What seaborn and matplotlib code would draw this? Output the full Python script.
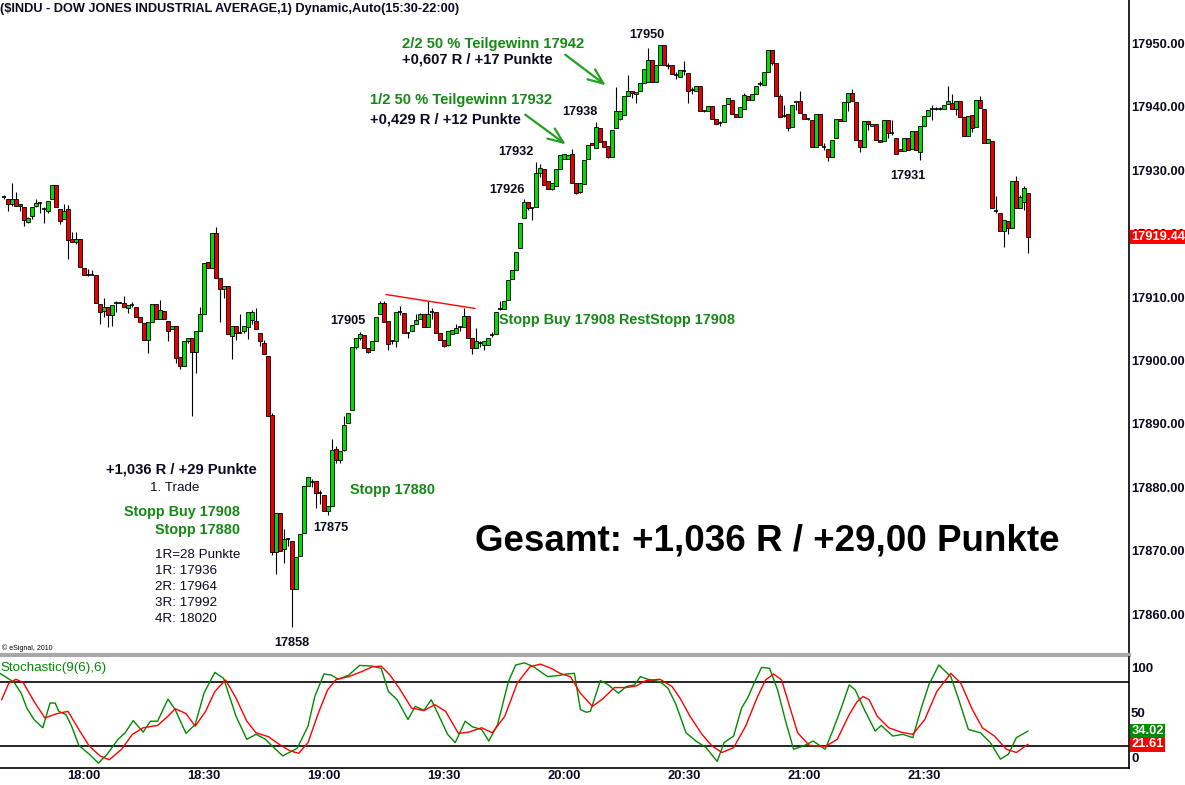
import numpy as np
import pandas as pd
import matplotlib
matplotlib.use("Agg")
import matplotlib.pyplot as plt
import seaborn as sns
from matplotlib.transforms import blended_transform_factory

# ============================================================
# data: 1-min candles, first bar 17:40 (minutes counted from 18:00)
# ============================================================
first_minute = -20

opens = [
    17925.9, 17925.5, 17924.6, 17925.4, 17924.6, 17924.2, 17921.9, 17922.8, 17924.4, 17924.8,
    17923.9, 17923.6, 17925.5, 17927.6, 17923.8, 17922.3, 17923.8, 17919.1, 17918.6, 17919.2,
    17914.5, 17913.5, 17913.5, 17913.4, 17908.9, 17907.8, 17908.4, 17907.2, 17909.1, 17909.1,
    17909.1, 17908.3, 17908.7, 17908.5, 17906.9, 17905.9, 17903.3, 17906.1, 17908.9, 17906.6,
    17907.8, 17906.3, 17904.9, 17905.4, 17900.5, 17899.1, 17903.1, 17903.5, 17901.4, 17904.7,
    17907.3, 17915.5, 17914.6, 17920.1, 17913.0, 17911.2, 17911.7, 17903.8, 17905.4, 17904.4,
    17904.7, 17905.3, 17906.4, 17906.2, 17904.4, 17902.8, 17900.7, 17891.4, 17869.9, 17875.9,
    17870.3, 17871.8, 17871.5, 17864.0, 17869.2, 17872.9, 17880.2, 17880.9, 17881.0, 17879.1,
    17878.8, 17876.3, 17877.1, 17886.0, 17884.3, 17885.9, 17890.1, 17892.2, 17902.1, 17903.5,
    17904.0, 17901.9, 17901.6, 17903.1, 17907.3, 17909.1, 17906.2, 17903.0, 17903.0, 17907.7,
    17907.5, 17904.4, 17904.7, 17905.7, 17906.5, 17907.3, 17905.2, 17907.6, 17907.6, 17904.4,
    17903.3, 17902.4, 17904.2, 17904.3, 17905.2, 17905.2, 17907.0, 17903.5, 17901.9, 17902.8,
    17902.4, 17902.4, 17904.0, 17904.1, 17908.1, 17908.1, 17909.6, 17912.8, 17914.2, 17917.8,
    17922.5, 17925.0, 17924.0, 17924.2, 17929.6, 17930.1, 17928.3, 17927.1,
    17927.5, 17930.2, 17931.7, 17931.7, 17932.5, 17928.0, 17926.6, 17927.8, 17931.7, 17934.2,
    17933.5, 17936.7, 17934.6, 17933.8, 17932.1, 17936.6, 17938.0, 17938.7, 17941.7, 17942.4,
    17942.0, 17942.4, 17943.8, 17943.9, 17947.4, 17943.9, 17946.5, 17949.7, 17946.4,
    17946.5, 17945.0, 17944.7, 17945.6, 17945.3, 17942.6, 17942.5, 17943.2, 17939.3, 17939.3,
    17940.1, 17938.1, 17937.4, 17937.6, 17940.4, 17941.1, 17938.8, 17938.4, 17939.7, 17941.6,
    17941.0, 17942.0, 17943.5, 17943.4, 17945.5, 17949.0, 17946.8, 17941.7, 17938.6, 17938.8,
    17936.8, 17940.7, 17940.9, 17938.8, 17938.0, 17937.9, 17933.7, 17938.9, 17933.7, 17933.4,
    17932.1, 17935.0, 17938.1, 17937.8, 17940.7, 17942.1, 17940.7, 17934.7, 17933.7, 17937.8,
    17937.0, 17937.3, 17934.8, 17934.6, 17937.9, 17935.8, 17935.1, 17933.4, 17933.0, 17935.1,
    17933.3, 17936.1, 17932.9, 17936.9, 17938.5, 17939.7, 17939.7, 17939.7, 17939.6, 17940.4,
    17940.5, 17939.6, 17940.9, 17938.3, 17935.4, 17938.7, 17936.8, 17941.0, 17939.7, 17934.2,
    17934.6, 17923.6, 17923.3, 17920.4, 17922.0, 17920.8, 17928.3, 17924.0, 17925.0, 17926.4,
]
highs = [
    17926.1, 17925.5, 17927.9, 17926.5, 17924.7, 17924.2, 17922.6, 17924.2, 17925.4, 17924.9,
    17924.2, 17925.1, 17927.6, 17927.6, 17923.8, 17924.6, 17924.5, 17920.2, 17920.2, 17919.2,
    17914.5, 17914.4, 17914.2, 17913.4, 17908.9, 17909.8, 17908.4, 17908.8, 17909.4, 17909.2,
    17910.2, 17908.8, 17909.2, 17908.5, 17906.9, 17905.9, 17906.0, 17908.9, 17908.9, 17909.5,
    17907.8, 17906.3, 17905.4, 17905.4, 17900.5, 17903.1, 17903.6, 17903.5, 17904.6, 17908.5,
    17915.3, 17915.5, 17920.1, 17921.0, 17913.0, 17911.7, 17911.7, 17905.4, 17905.4, 17907.3,
    17905.4, 17907.6, 17907.9, 17908.3, 17904.4, 17903.2, 17900.7, 17891.8, 17875.9, 17875.9,
    17873.4, 17872.1, 17871.5, 17869.1, 17872.6, 17880.2, 17881.7, 17881.3, 17881.0, 17879.6,
    17878.8, 17877.1, 17887.6, 17886.5, 17885.8, 17891.3, 17891.8, 17902.1, 17903.6, 17904.5,
    17904.0, 17901.9, 17903.0, 17906.9, 17909.4, 17909.4, 17906.2, 17903.3, 17907.7, 17908.6,
    17907.5, 17904.5, 17905.6, 17907.4, 17907.5, 17907.4, 17909.3, 17908.2, 17907.6, 17904.4,
    17903.3, 17904.6, 17904.8, 17905.7, 17905.4, 17908.3, 17907.0, 17903.5, 17905.1, 17903.0,
    17903.1, 17903.5, 17904.5, 17907.7, 17909.3, 17909.3, 17912.7, 17914.2, 17917.1, 17921.6,
    17925.4, 17925.0, 17924.1, 17931.3, 17930.9, 17930.1, 17928.3, 17928.0,
    17930.2, 17932.4, 17932.6, 17932.4, 17933.3, 17928.0, 17927.9, 17931.6, 17933.9, 17934.3,
    17937.6, 17936.7, 17934.6, 17933.8, 17936.3, 17943.1, 17939.3, 17941.7, 17945.0, 17942.4,
    17942.3, 17943.8, 17946.0, 17949.2, 17947.4, 17946.5, 17949.7, 17949.7, 17946.8,
    17946.5, 17945.5, 17945.7, 17947.2, 17945.3, 17943.1, 17943.2, 17943.2, 17939.5, 17940.1,
    17940.1, 17938.1, 17937.8, 17940.2, 17941.3, 17941.1, 17938.8, 17939.9, 17942.1, 17941.6,
    17942.0, 17943.2, 17944.0, 17945.5, 17949.0, 17949.0, 17946.8, 17942.0, 17940.2, 17938.8,
    17940.3, 17940.7, 17942.4, 17938.8, 17938.1, 17937.9, 17938.9, 17938.9, 17934.2, 17933.4,
    17934.7, 17938.1, 17938.1, 17940.8, 17942.1, 17942.7, 17940.7, 17934.7, 17937.7, 17937.8,
    17937.3, 17937.3, 17934.8, 17937.9, 17937.9, 17937.9, 17935.1, 17933.4, 17935.1, 17935.1,
    17936.1, 17936.1, 17936.9, 17938.5, 17939.4, 17940.2, 17939.9, 17939.9, 17940.3, 17943.2,
    17942.0, 17940.9, 17940.9, 17938.3, 17938.5, 17938.7, 17941.1, 17941.6, 17939.7, 17934.9,
    17934.6, 17925.9, 17923.3, 17922.2, 17922.0, 17928.3, 17929.1, 17926.1, 17927.5, 17926.4,
]
lows = [
    17925.5, 17923.6, 17924.4, 17924.4, 17923.6, 17921.2, 17921.7, 17922.3, 17924.2, 17923.3,
    17921.7, 17923.3, 17925.5, 17924.2, 17921.5, 17922.3, 17916.0, 17918.6, 17918.3, 17914.8,
    17913.4, 17913.3, 17913.4, 17909.0, 17905.8, 17906.9, 17905.3, 17905.5, 17907.7, 17909.0,
    17908.5, 17907.5, 17908.5, 17906.9, 17906.0, 17903.2, 17901.2, 17906.1, 17906.6, 17906.6,
    17906.5, 17903.0, 17904.9, 17899.6, 17898.7, 17899.1, 17902.7, 17891.2, 17898.0, 17904.7,
    17907.3, 17914.6, 17914.6, 17913.0, 17906.1, 17909.9, 17904.1, 17900.3, 17903.2, 17904.4,
    17904.4, 17903.4, 17905.7, 17904.9, 17902.3, 17901.0, 17891.2, 17869.4, 17866.3, 17870.0,
    17868.1, 17870.7, 17858.0, 17864.0, 17869.2, 17872.9, 17880.2, 17880.1, 17876.8, 17877.4,
    17876.3, 17875.7, 17877.1, 17883.9, 17883.8, 17885.8, 17890.1, 17892.2, 17901.8, 17903.2,
    17901.9, 17901.2, 17901.6, 17903.1, 17907.3, 17906.1, 17901.6, 17902.6, 17902.2, 17907.2,
    17904.4, 17903.5, 17904.7, 17905.7, 17906.5, 17905.3, 17905.2, 17906.6, 17904.4, 17903.2,
    17902.1, 17902.3, 17904.2, 17904.3, 17904.7, 17905.2, 17903.6, 17901.1, 17901.9, 17902.2,
    17901.6, 17902.4, 17903.7, 17904.1, 17907.9, 17908.1, 17909.6, 17912.8, 17914.2, 17917.8,
    17922.5, 17923.7, 17922.1, 17924.2, 17928.9, 17927.7, 17927.1, 17926.9,
    17927.5, 17930.2, 17931.7, 17931.7, 17927.9, 17926.3, 17926.4, 17927.8, 17931.7, 17934.0,
    17933.5, 17934.5, 17933.7, 17931.9, 17932.1, 17936.6, 17937.9, 17938.7, 17941.7, 17941.3,
    17940.5, 17942.4, 17943.8, 17943.9, 17943.9, 17943.9, 17946.5, 17946.5, 17946.0,
    17945.2, 17944.3, 17944.7, 17945.0, 17940.6, 17942.0, 17942.5, 17939.3, 17939.1, 17939.3,
    17938.1, 17937.3, 17937.0, 17937.6, 17940.4, 17938.9, 17938.3, 17938.4, 17939.7, 17941.0,
    17941.0, 17942.0, 17943.2, 17943.4, 17945.5, 17946.5, 17941.7, 17938.4, 17938.4, 17936.2,
    17936.8, 17939.5, 17939.0, 17938.0, 17937.9, 17933.7, 17933.7, 17933.9, 17933.1, 17931.5,
    17932.1, 17935.0, 17937.8, 17937.8, 17939.3, 17940.9, 17934.8, 17932.9, 17933.7, 17936.3,
    17936.9, 17934.8, 17934.5, 17934.6, 17935.0, 17935.6, 17932.6, 17933.0, 17933.0, 17933.2,
    17933.3, 17933.2, 17931.6, 17936.9, 17938.5, 17937.9, 17939.5, 17939.5, 17939.6, 17940.4,
    17939.7, 17938.7, 17938.4, 17935.4, 17935.4, 17936.0, 17936.8, 17939.8, 17934.2, 17934.2,
    17924.0, 17923.2, 17920.4, 17917.9, 17920.0, 17920.8, 17924.1, 17924.0, 17923.7, 17917.0,
]
closes = [
    17925.8, 17924.6, 17925.5, 17924.4, 17924.3, 17922.2, 17922.5, 17924.2, 17924.8, 17924.8,
    17923.9, 17925.1, 17927.6, 17924.2, 17922.0, 17923.6, 17919.0, 17918.6, 17919.2, 17914.8,
    17913.4, 17913.5, 17913.5, 17909.0, 17907.7, 17908.4, 17907.1, 17908.8, 17909.1, 17909.1,
    17908.5, 17908.8, 17908.7, 17906.9, 17906.0, 17903.2, 17906.0, 17908.9, 17906.6, 17908.0,
    17906.5, 17904.7, 17905.4, 17900.4, 17899.1, 17903.1, 17903.5, 17901.4, 17904.6, 17907.3,
    17915.3, 17914.6, 17920.1, 17913.0, 17911.2, 17911.7, 17904.1, 17905.4, 17904.3, 17904.4,
    17905.4, 17907.6, 17907.6, 17904.9, 17903.0, 17901.0, 17891.2, 17869.9, 17875.9, 17870.0,
    17871.8, 17871.8, 17864.0, 17869.1, 17872.6, 17880.2, 17881.6, 17880.9, 17879.1, 17879.1,
    17876.3, 17877.1, 17885.9, 17884.3, 17885.8, 17889.8, 17891.8, 17902.1, 17903.5, 17904.2,
    17901.9, 17901.4, 17903.0, 17906.9, 17909.1, 17906.1, 17902.6, 17903.0, 17907.7, 17907.7,
    17904.4, 17904.4, 17905.6, 17906.4, 17907.3, 17905.3, 17907.3, 17907.6, 17904.4, 17903.2,
    17902.3, 17904.6, 17904.8, 17905.1, 17905.2, 17907.0, 17903.6, 17901.9, 17903.0, 17902.8,
    17903.1, 17903.5, 17904.0, 17907.7, 17908.1, 17909.3, 17912.7, 17914.2, 17917.1, 17921.6,
    17925.0, 17924.0, 17924.0, 17929.5, 17930.3, 17927.7, 17927.1, 17927.9,
    17930.2, 17932.4, 17932.5, 17932.4, 17927.9, 17926.4, 17927.9, 17931.6, 17933.9, 17934.0,
    17936.8, 17934.5, 17933.7, 17932.1, 17936.3, 17939.3, 17939.3, 17941.7, 17942.4, 17942.1,
    17942.3, 17943.8, 17946.0, 17947.4, 17943.9, 17946.5, 17949.7, 17946.5, 17946.4,
    17945.2, 17945.0, 17945.7, 17945.6, 17942.5, 17942.6, 17943.2, 17939.3, 17939.3, 17940.1,
    17938.1, 17937.3, 17937.4, 17940.2, 17941.3, 17938.9, 17938.3, 17939.9, 17941.8, 17941.0,
    17942.0, 17943.2, 17943.5, 17945.5, 17949.0, 17946.9, 17941.7, 17938.4, 17938.6, 17936.7,
    17940.3, 17940.7, 17939.0, 17938.0, 17938.0, 17933.7, 17938.9, 17933.9, 17933.7, 17932.1,
    17934.7, 17938.1, 17937.8, 17940.8, 17942.1, 17940.9, 17934.8, 17933.6, 17937.7, 17937.2,
    17937.3, 17934.8, 17934.5, 17937.9, 17935.8, 17935.8, 17932.6, 17933.0, 17935.1, 17933.2,
    17936.1, 17933.2, 17936.9, 17938.5, 17939.4, 17939.7, 17939.7, 17939.7, 17940.3, 17940.9,
    17939.7, 17940.9, 17938.4, 17935.4, 17938.5, 17936.7, 17941.1, 17939.8, 17934.2, 17934.9,
    17924.0, 17923.6, 17920.4, 17922.2, 17920.8, 17928.3, 17924.1, 17925.8, 17927.2, 17919.44,
]

# stochastic %K (green) and %D (red)
k_times = [-21, -17.5, -15.7, -14.3, -12.5, -10.3, -8.5, -7.2, -6.3, -4.5, -3.1, -1.3, 1.3, 3.6,
           5.8, 8.5, 10.3, 12.3, 14.8, 16.6, 18.4, 21.0, 22.8, 25.5, 27.8, 30.0, 32.7, 34.9,
           38.0, 40.7, 43.0, 45.2, 47.0, 49.7, 53.3, 56.0, 57.7, 60.0, 61.8, 63.6, 66.2, 68.9,
           72.1, 74.3, 76.1, 78.3, 81.0, 82.8, 85.0, 86.8, 88.6, 90.9, 92.8, 95.3, 97.1, 99.4,
           101.2, 103.4, 106.1, 107.9, 110.1, 112.4, 115.9, 119.0, 120.6, 122.6, 124.1, 125.6,
           126.6, 129.1, 131.1, 133.6, 135.6, 137.6, 139.1, 141.0, 144.0, 146.0, 148.0, 150.5,
           153.0, 155.5, 158.3, 160.0, 162.4, 164.4, 165.9, 167.9, 169.4, 171.4, 173.4, 175.4,
           177.4, 179.9, 182.3, 185.3, 187.3, 189.3, 191.3, 192.8, 195.3, 197.8, 199.3, 202.2,
           204.7, 207.2, 209.2, 211.2, 213.7, 216.7, 218.7, 221.1, 224.1, 226.6, 229.1, 231.1,
           233.1, 236.0]
k_vals = [88.4, 80, 69.7, 55.7, 44.9, 37.1, 60.4, 60.4, 52.6, 49.5, 38.6, 20.6, 12.2, 3.8,
          12.2, 26.2, 32.4, 43.9, 33.0, 43.3, 43.3, 64.1, 54.2, 31.8, 40.2, 69.7, 89.3, 83.7,
          48.0, 26.2, 30.9, 26.8, 20.0, 10.6, 17.8, 38.6, 66.6, 87.8, 86.8, 82.8, 86.8, 95.9,
          95.2, 93.1, 71.3, 63.5, 44.9, 57.3, 53.6, 63.5, 49.5, 30.9, 23.1, 43.3, 38.0, 35.5,
          24.6, 40.2, 80.6, 96.2, 98.3, 94.6, 85.3, 86.5, 87.8, 88.4, 54.2, 51.7,
          52.6, 81.6, 77.5, 69.7, 76.0, 77.5, 85.3, 82.8, 80.6, 74.4, 58.9, 32.4,
          24.6, 18.4, 5.4, 23.1, 29.3, 55.7, 65.1, 82.2, 94.0, 93.1, 72.8, 43.3,
          16.9, 20.0, 24.6, 16.9, 35.5, 55.7, 77.5, 72.8, 52.6, 34.0, 39.3, 29.3,
          30.9, 27.8, 54.2, 77.5, 96.2, 85.3, 63.5, 35.5, 32.4, 23.1, 7.5, 12.2,
          27.8, 34.02]
d_times = [-20.6, -18.8, -17.0, -15.2, -12.5, -9.8, -6.7, -4.0, -1.3, 1.3, 4.0, 6.3, 9.4, 12.1,
           14.8, 18.4, 21.0, 22.8, 25.5, 27.8, 30.4, 32.7, 35.4, 38.0, 40.7, 43.0, 46.1, 48.8,
           51.5, 53.7, 56.0, 58.6, 60.9, 63.1, 66.2, 69.4, 72.1, 74.3, 76.5, 78.8, 81.9, 85.0,
           87.7, 90.4, 93.6, 96.2, 99.4, 102.1, 105.2, 108.3, 111.5, 114.1, 116.8, 119.0, 121.6,
           124.1, 127.1, 129.6, 132.6, 135.6, 138.1, 140.5, 144.0, 147.0, 149.0, 151.5, 154.5,
           157.0, 159.5, 162.4, 165.4, 168.4, 170.4, 172.4, 174.4, 176.4, 178.4, 181.3, 185.3,
           188.3, 191.3, 193.3, 194.8, 196.3, 198.3, 201.2, 204.2, 207.2, 210.2, 213.2, 216.7,
           219.2, 222.1, 224.6, 227.6, 230.6, 233.1, 236.0]
d_vals = [63.5, 79.1, 82.8, 79.7, 62.0, 46.4, 50.5, 52.6, 35.5, 20.0, 10.6, 6.9, 16.9, 30.9,
          37.1, 39.3, 48.0, 55.1, 50.5, 38.6, 52.6, 71.3, 82.2, 65.1, 43.3, 32.4, 28.7, 21.5,
          15.3, 13.1, 23.1, 51.1, 72.8, 82.8, 85.3, 90.0, 94.6, 95.2, 86.8, 74.4, 55.7, 53.3,
          58.9, 52.6, 31.8, 33.0, 37.1, 32.4, 48.0, 79.1, 94.6, 97.1, 93.1, 88.4, 85.3,
          69.7, 57.3, 64.1, 75.0, 75.0, 76.6, 81.6, 82.8, 76.0, 65.1, 48.0, 30.9,
          20.0, 13.8, 18.4, 38.6, 66.6, 82.2, 87.8, 82.2, 57.3, 32.4, 20.6, 19.4,
          26.2, 49.5, 61.9, 66.6, 63.5, 48.0, 37.1, 33.0, 30.9, 44.9, 71.3, 88.4,
          79.1, 54.2, 37.1, 29.3, 16.9, 13.8, 21.61]

# red resistance line drawn on the chart
trend_times = [75.5, 97.75]
trend_prices = [17910.4, 17908.2]

price_ticks = [17860, 17870, 17880, 17890, 17900, 17910, 17920, 17930, 17940, 17950]
time_ticks = [0, 30, 60, 90, 120, 150, 180, 210]
time_labels = ["18:00", "18:30", "19:00", "19:30", "20:00", "20:30", "21:00", "21:30"]

assert len(opens) == len(highs) == len(lows) == len(closes)
assert len(k_times) == len(k_vals) and len(d_times) == len(d_vals)

# ============================================================
# style
# ============================================================
sns.set_style("white")
plt.rcParams['font.family'] = ['Liberation Sans', 'DejaVu Sans']

GREEN = "#00dc00"
RED = "#e60000"
TXT_GREEN = "#138a13"
INK = "#0a0a1e"

W, H = 1185, 785
fig = plt.figure(figsize=(W / 100, H / 100), dpi=100)
ax = fig.add_axes([0, 1 - 655 / H, 1129 / W, 655 / H])
axs = fig.add_axes([0, 1 - 768 / H, 1129 / W, 111 / H])


def put(px, py, s, ha="left", size=10.6, weight="bold", color=INK, **kw):
    fig.text(px / W, 1 - py / H, s, ha=ha, va="center", fontsize=size,
             fontweight=weight, color=color, **kw)


# ============================================================
# candles
# ============================================================
o = np.array(opens)
h = np.array(highs)
l = np.array(lows)
c = np.array(closes)
t = np.arange(len(c)) + first_minute
up = (c - o) > 0.15
dn = (o - c) > 0.15
dj = ~(up | dn)

ax.vlines(t, l, h, color="black", lw=0.8, zorder=1)
ax.bar(t[up], (c - o)[up], bottom=o[up], width=0.8, color=GREEN,
       edgecolor="black", linewidth=0.6, zorder=2)
ax.bar(t[dn], (o - c)[dn], bottom=c[dn], width=0.8, color=RED,
       edgecolor="black", linewidth=0.6, zorder=2)
ax.hlines(c[dj], t[dj] - 0.5, t[dj] + 0.5, color="black", lw=1.2, zorder=2)
ax.plot(trend_times, trend_prices, color="red", lw=1.0, zorder=3)

ax.set_xlim(-21, 261.25)
ax.set_ylim(17853.6, 17956.8)
ax.set_xticks([])
ax.yaxis.tick_right()
ax.set_yticks(price_ticks)
ax.set_yticklabels([f"{v:.2f}" for v in price_ticks], fontsize=9.3,
                   fontweight="bold", color=INK)
ax.tick_params(axis="y", length=0, pad=1.5)
for s in ("top", "left"):
    ax.spines[s].set_visible(False)
ax.spines["right"].set_color("black")
ax.spines["right"].set_linewidth(1.2)
ax.spines["bottom"].set_color("#a8a8a8")
ax.spines["bottom"].set_linewidth(3)

tr = blended_transform_factory(ax.transAxes, ax.transData)
ax.text(1.002, closes[-1], f"{closes[-1]:.2f}", transform=tr, ha="left", va="center",
        fontsize=9.3, fontweight="bold", color="white",
        bbox=dict(boxstyle="square,pad=0.1", fc="#ff0000", ec="none"))

# ============================================================
# stochastic panel
# ============================================================
k_df = pd.DataFrame({"t": k_times, "v": k_vals})
d_df = pd.DataFrame({"t": d_times, "v": d_vals})
axs.axhline(80, color="black", lw=1.2)
axs.axhline(20, color="black", lw=1.2)
sns.lineplot(data=k_df, x="t", y="v", color="#008a00", lw=1.0, ax=axs, legend=False)
sns.lineplot(data=d_df, x="t", y="v", color="#ff0000", lw=1.0, ax=axs, legend=False)
axs.set_xlim(-21, 261.25)
axs.set_ylim(-0.8, 103.8)
axs.set_xlabel("")
axs.set_ylabel("")
axs.set_yticks([])
axs.set_xticks(time_ticks)
axs.set_xticklabels(time_labels, fontsize=9.4, fontweight="bold", color=INK)
axs.tick_params(axis="x", length=0, pad=1.5)
axs.spines["top"].set_visible(False)
axs.spines["left"].set_visible(False)
for s in ("right", "bottom"):
    axs.spines[s].set_color("black")
    axs.spines[s].set_linewidth(1.2)

trs = blended_transform_factory(axs.transAxes, axs.transData)
axs.text(1.002, 34.02, "34.02", transform=trs, ha="left", va="center", fontsize=9.3,
         fontweight="bold", color="white",
         bbox=dict(boxstyle="square,pad=0.1", fc="#008a00", ec="none"))
axs.text(1.002, 21.61, "21.61", transform=trs, ha="left", va="center", fontsize=9.3,
         fontweight="bold", color="white",
         bbox=dict(boxstyle="square,pad=0.1", fc="#ff0000", ec="none"))
put(1131, 669, "100", size=9.5)
put(1131, 714, "50", size=9.5)
put(1131, 759, "0", size=9.5)
put(0, 668, "Stochastic(9(6),6)", size=9.6, weight="normal", color="#008a00")

# ============================================================
# texts and arrows
# ============================================================
put(0, 9, "($INDU - DOW JONES INDUSTRIAL AVERAGE,1) Dynamic,Auto(15:30-22:00)", size=9.2)
put(2, 648, "\u00a9 eSignal, 2010", size=5, weight="normal", color="black")

put(647, 35, "17950", ha="center", size=9.2)
put(580, 112, "17938", ha="center", size=9.2)
put(516, 152, "17932", ha="center", size=9.2)
put(507, 190, "17926", ha="center", size=9.2)
put(348, 321, "17905", ha="center", size=9.2)
put(908, 176, "17931", ha="center", size=9.2)
put(331, 528, "17875", ha="center", size=9.2)
put(292, 643, "17858", ha="center", size=9.2)

put(402, 44, "2/2 50 % Teilgewinn 17942", color=TXT_GREEN)
put(402, 60, "+0,607 R / +17 Punkte")
put(370, 100, "1/2 50 % Teilgewinn 17932", color=TXT_GREEN)
put(370, 119, "+0,429 R / +12 Punkte")
put(499, 320, "Stopp Buy 17908 RestStopp 17908", size=10.4, color=TXT_GREEN)
put(350, 490, "Stopp 17880", size=10.4, color=TXT_GREEN)

put(106, 470, "+1,036 R / +29 Punkte")
put(175, 488, "1. Trade", ha="center", size=9.6, weight="normal")
put(240, 512, "Stopp Buy 17908", ha="right", size=10.4, color=TXT_GREEN)
put(240, 530, "Stopp 17880", ha="right", size=10.4, color=TXT_GREEN)
put(155, 555, "1R=28 Punkte", size=9.6, weight="normal")
put(155, 571, "1R: 17936", size=9.6, weight="normal")
put(155, 587, "2R: 17964", size=9.6, weight="normal")
put(155, 603, "3R: 17992", size=9.6, weight="normal")
put(155, 619, "4R: 18020", size=9.6, weight="normal")

put(475, 541, "Gesamt: +1,036 R / +29,00 Punkte", size=26.5, color="black")

arrow = dict(arrowstyle="->,head_length=1.1,head_width=0.45", color="#22a022", lw=1.6)
ax.annotate("", xy=(568 / W, 1 - 146 / H), xytext=(523 / W, 1 - 113 / H),
            xycoords="figure fraction", textcoords="figure fraction", arrowprops=arrow)
ax.annotate("", xy=(608 / W, 1 - 87 / H), xytext=(563 / W, 1 - 53 / H),
            xycoords="figure fraction", textcoords="figure fraction", arrowprops=arrow)

fig.savefig("out.png", dpi=100)
